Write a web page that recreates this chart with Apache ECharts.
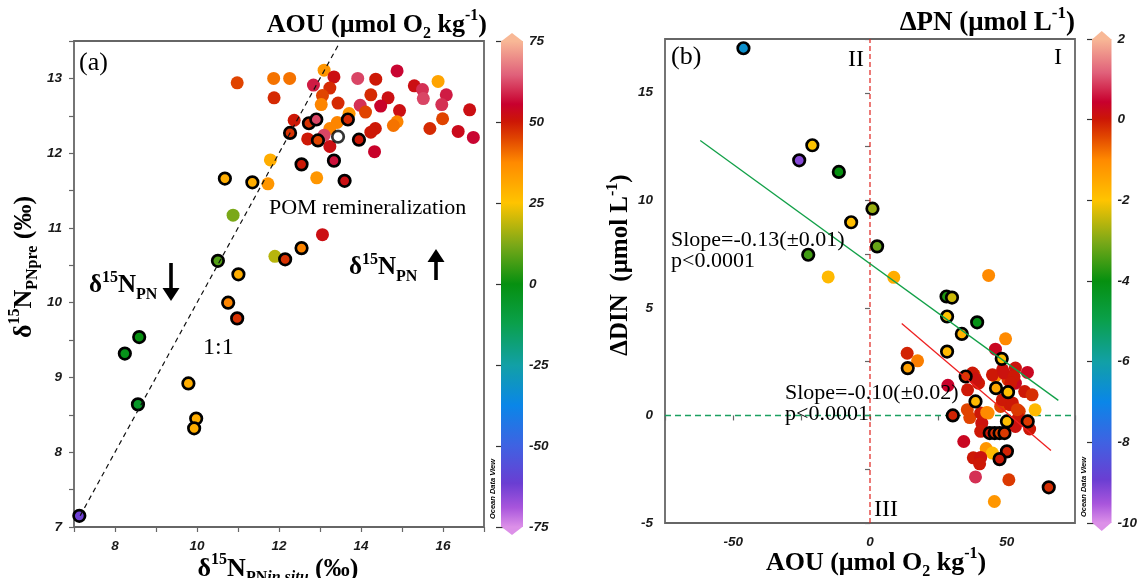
<!DOCTYPE html>
<html><head><meta charset="utf-8">
<script src="https://cdn.jsdelivr.net/npm/echarts@6/dist/echarts.min.js"></script>
<style>html,body{margin:0;padding:0;background:#fff}#c{width:1140px;height:578px}</style>
</head><body><div id="c"></div><script>
// ---------------- DATA ----------------
// Panel (a): [δ15N PN in situ, δ15N PN pre, AOU]
const aPlain = [
 [10.98,12.94,45],[11.87,13.00,40],[12.26,13.00,40],[13.10,13.11,35],[13.34,13.02,52],
 [12.84,12.91,58],[13.24,12.87,48],[13.06,12.77,45],[13.03,12.65,38],[11.88,12.74,48],
 [13.92,13.00,62],[14.36,12.99,50],[14.88,13.10,56],[15.30,12.90,52],[15.50,12.85,60],
 [15.52,12.73,62],[15.88,12.96,32],[16.08,12.78,58],[15.97,12.65,60],[14.24,12.78,48],
 [14.66,12.74,52],[13.98,12.64,60],[14.48,12.63,55],[14.11,12.55,45],[13.44,12.67,48],
 [14.94,12.57,52],[14.88,12.42,38],[14.79,12.37,40],[15.99,12.46,45],[16.65,12.58,52],
 [15.68,12.33,48],[16.37,12.29,53],[16.74,12.21,56],[14.35,12.33,50],[14.24,12.28,50],
 [14.33,12.02,55],[13.71,12.53,35],[13.42,12.41,38],[13.24,12.33,38],[13.10,12.24,62],
 [12.70,12.19,50],[13.24,12.09,52],[12.37,12.44,50],[11.79,11.91,30],[11.73,11.59,35],
 [12.92,11.67,35],[10.88,11.17,12],[13.06,10.91,52],[11.90,10.62,18]
];
const aRing = [
 [12.27,12.27,47],[12.73,12.40,47],[12.91,12.45,62],[12.95,12.17,45],[13.68,12.45,48],
 [13.95,12.18,50],[12.55,11.85,50],[13.34,11.90,57],[13.60,11.63,52],[10.68,11.66,30],
 [11.35,11.61,30],[10.51,10.56,8],[11.01,10.38,30],[12.15,10.58,47],[12.55,10.73,38],
 [10.76,10.00,38],[10.98,9.79,47],[8.24,9.32,-2],[8.59,9.54,0],[8.56,8.64,-5],
 [9.79,8.92,30],[9.98,8.45,30],[9.93,8.32,30],[7.13,7.15,-62]
];
const aWhite = [[13.44,12.22]];
const aOneToOne = [[7.15,7.15],[13.45,13.45]];

// Panel (b): [AOU, ΔDIN, ΔPN]
const bPlain = [
 [-15.3,6.44,-1.8],[8.7,6.42,-1.6],[43.4,6.51,-1],[13.6,2.89,-0.1],[17.4,2.54,-0.9],
 [49.6,3.56,-1],[45.9,3.08,0.3],[28.5,1.40,0.4],
 [38.1,1.89,-0.5],[39.7,1.50,0],[35.7,1.19,0],[45.8,1.81,-1],[48.5,2.12,0.1],[53.2,2.20,0.1],
 [57.6,2.00,0.3],[50.5,1.66,-0.3],[53.2,1.50,0.3],[56.6,1.11,0],[59.3,0.96,-0.2],
 [47.8,0.42,-0.4],[51.2,0.50,0],[54.6,0.19,-0.3],[60.4,0.26,-1.8],[43.2,0.11,-1],
 [36.5,-0.10,-0.4],[40.9,-0.36,0.1],[54.3,-0.12,0],[58.4,-0.63,0],[40.5,-0.74,0],
 [34.3,-1.21,0.3],[42.5,-1.54,-1.2],[44.8,-1.75,-1.8],[37.8,-1.97,0],[40.5,-1.95,0.1],
 [40.1,-2.25,0],[38.6,-2.86,0.8],[50.8,-2.99,-0.3],[45.5,-4.00,-1.2],[53.2,-0.51,0.1],
 [37.5,1.97,0],[38.7,1.69,0.1],[44.8,1.89,0],[49.0,1.97,0.1],[52.7,1.81,0],[51.5,1.51,0],
 [48.4,0.73,0],[52.1,0.58,0],[53.9,0.27,-0.3],[35.6,0.27,-0.4],[40.5,0.11,0],[42.7,0.14,-1]
];
const bRing = [
 [-46.3,17.07,-6.6],[-21.1,12.56,-2],[-25.9,11.86,-9.2],[-11.4,11.32,-4],[0.9,9.61,-2.8],
 [-6.9,8.98,-1.9],[2.6,7.86,-3.2],[-22.6,7.47,-3.5],
 [28.0,5.53,-3.8],[30.0,5.48,-2.4],[28.2,4.60,-2],[39.2,4.33,-4.1],[33.6,3.79,-1.7],
 [28.2,2.97,-1.8],[13.8,2.20,-1.4],[48.2,2.63,-1.9],[35.0,1.81,-0.3],[46.1,1.27,-1.5],
 [50.5,1.08,-1.9],[38.6,0.65,-1.8],[30.3,0.00,-0.1],[50.1,-0.28,-1.9],[57.7,-0.28,-0.3],
 [43.8,-0.82,0],[45.6,-0.82,-0.2],[47.4,-0.82,-0.4],[49.2,-0.82,-0.3],[50.1,-1.67,-0.1],
 [47.4,-2.03,0],[65.4,-3.34,-0.2]
];
const bFitAll = [[-62.1,12.78],[68.9,0.70]];
const bFitSub = [[11.6,4.27],[66.2,-1.63]];

// axis ranges and colour scales
const aXRange = [7,17], aYRange = [7,13.5];
const bXRange = [-75,75], bYRange = [-5,17.5];
const aouTicks = [-75,-50,-25,0,25,50,75];
const dpnTicks = [-10,-8,-6,-4,-2,0,2];

// ---------------- STYLE ----------------
const cmapStops = [
 [0,'#dc90e8'],[0.04,'#a855dc'],[0.09,'#6a3ed2'],[0.167,'#3f62e2'],[0.25,'#0a86e8'],
 [0.333,'#12a0a6'],[0.42,'#0aa04a'],[0.5,'#069010'],[0.58,'#7aa818'],[0.667,'#ffc400'],
 [0.75,'#ff8a00'],[0.80,'#e04400'],[0.835,'#cc1606'],[0.87,'#c8002e'],[0.93,'#e0607a'],[1,'#f8b896']
];
function hex2rgb(h){return [parseInt(h.substr(1,2),16),parseInt(h.substr(3,2),16),parseInt(h.substr(5,2),16)];}
function cmap(t){
  t=Math.max(0,Math.min(1,t));
  for(let i=1;i<cmapStops.length;i++){
    if(t<=cmapStops[i][0]){
      const a=cmapStops[i-1],b=cmapStops[i];
      const f=(t-a[0])/(b[0]-a[0]);
      const ca=hex2rgb(a[1]),cb=hex2rgb(b[1]);
      return 'rgb('+ca.map((v,k)=>Math.round(v+(cb[k]-v)*f)).join(',')+')';
    }
  }
  return cmapStops[cmapStops.length-1][1];
}
const aMin=aouTicks[0],aMax=aouTicks[aouTicks.length-1];
const dMin=dpnTicks[0],dMax=dpnTicks[dpnTicks.length-1];
const colA=v=>cmap((v-aMin)/(aMax-aMin));
const colB=v=>cmap((v-dMin)/(dMax-dMin));

const SERIF='"Liberation Serif","Times New Roman",serif';
const SANS='"Liberation Sans",Arial,sans-serif';
const FRAME='#666';
const tickLabel={fontFamily:SANS,fontWeight:'bold',fontStyle:'italic',fontSize:13.5,color:'#1a1a1a'};

function rich(size){
  const s=Math.round(size*0.62);
  return {
    b:{fontFamily:SERIF,fontWeight:'bold',fontSize:size,lineHeight:size+8,verticalAlign:'middle',color:'#000'},
    r:{fontFamily:SERIF,fontSize:size,lineHeight:size+8,verticalAlign:'middle',color:'#000'},
    sup:{fontFamily:SERIF,fontWeight:'bold',fontSize:s,lineHeight:s+6,verticalAlign:'top',color:'#000'},
    sub:{fontFamily:SERIF,fontWeight:'bold',fontSize:s,lineHeight:s+2,verticalAlign:'bottom',color:'#000'},
    subi:{fontFamily:SERIF,fontWeight:'bold',fontStyle:'italic',fontSize:s,lineHeight:s+2,verticalAlign:'bottom',color:'#000'}
  };
}
function txt(x,y,text,size,opts){
  opts=opts||{};
  return {type:'text',x:x,y:y,rotation:opts.rot||0,z:100,
    style:{text:text,rich:rich(size),align:opts.align||'left',verticalAlign:'middle'}};
}
function plain(x,y,text,size,opts){
  opts=opts||{};
  return {type:'text',x:x,y:y,rotation:opts.rot||0,z:100,
    style:{text:text,fill:'#000',font:(opts.font||'')+' '+size+'px '+(opts.family||SERIF),
      align:opts.align||'left',verticalAlign:'middle'}};
}
function arrow(x,yTail,yTip){
  const dir=yTip<yTail?-1:1;
  const headLen=13, headW=8.5;
  const yBase=yTip-dir*headLen;
  return {type:'group',z:100,children:[
    {type:'rect',shape:{x:x-1.8,y:Math.min(yTail,yBase),width:3.6,height:Math.abs(yBase-yTail)},style:{fill:'#000'}},
    {type:'polygon',shape:{points:[[x-headW,yBase],[x+headW,yBase],[x,yTip]]},style:{fill:'#000'}}
  ]};
}

function valAxis(gi,range,interval,showFn,pos){
  return {type:'value',gridIndex:gi,min:range[0],max:range[1],interval:interval,position:pos,
    axisLine:{show:false},splitLine:{show:false},
    axisTick:{show:true,length:5,lineStyle:{color:FRAME,width:1.2}},
    axisLabel:Object.assign({margin:12,formatter:v=>showFn(v)?String(v):''},tickLabel)};
}
function cbAxis(gi,ticks,pos,labels){
  return {type:'value',gridIndex:gi,min:ticks[0],max:ticks[ticks.length-1],interval:ticks[1]-ticks[0],position:pos,
    axisLine:{show:false},splitLine:{show:false},
    axisTick:{show:true,inside:true,length:5,lineStyle:{color:'#333',width:1.2}},
    axisLabel:Object.assign({show:labels,margin:6},tickLabel)};
}
function colorbarSeries(xi,yi,ticks){
  return {type:'custom',xAxisIndex:xi,yAxisIndex:yi,silent:true,clip:false,z:1,
    data:[[ticks[0],ticks[ticks.length-1]]],
    renderItem:function(params,api){
      const pB=api.coord([0,api.value(0)]),pT=api.coord([1,api.value(1)]);
      const x0=pB[0],x1=pT[0],yB=pB[1],yT=pT[1],xm=(x0+x1)/2;
      const grad=new echarts.graphic.LinearGradient(0,1,0,0,cmapStops.map(s=>({offset:s[0],color:s[1]})));
      return {type:'group',children:[
        {type:'rect',shape:{x:x0,y:yT,width:x1-x0,height:yB-yT},style:{fill:grad}},
        {type:'polygon',shape:{points:[[x0,yT+0.5],[x1,yT+0.5],[xm,yT-8]]},style:{fill:cmapStops[cmapStops.length-1][1]}},
        {type:'polygon',shape:{points:[[x0,yB-0.5],[x1,yB-0.5],[xm,yB+8]]},style:{fill:cmapStops[0][1]}}
      ]};
    }};
}
function scatter(xi,data,colFn,ring){
  return {type:'scatter',xAxisIndex:xi,yAxisIndex:xi,data:data,symbolSize:ring?11.5:13,z:ring?4:3,silent:true,
    itemStyle:{opacity:1,color:p=>colFn(p.value[2]),borderColor:'#000',borderWidth:ring?2.7:0}};
}
function line(xi,data,color,width,type,z){
  return {type:'line',xAxisIndex:xi,yAxisIndex:xi,data:data,symbol:'none',silent:true,z:z||5,
    lineStyle:{color:color,width:width,type:type}};
}

const chart=echarts.init(document.getElementById('c'),null,{renderer:'canvas'});
chart.setOption({
  animation:false,
  backgroundColor:'#fff',
  grid:[
    {left:74,top:41,width:410,height:486,show:true,borderColor:FRAME,borderWidth:1.8,backgroundColor:'transparent'},
    {left:665,top:39,width:410,height:484,show:true,borderColor:FRAME,borderWidth:1.8,backgroundColor:'transparent'},
    {left:501,top:41,width:22,height:486},
    {left:1092,top:39,width:22,height:484}
  ],
  xAxis:[
    valAxis(0,aXRange,1,v=>v%2===0,'bottom'),
    valAxis(1,bXRange,25,v=>v%50===0&&Math.abs(v)<75,'bottom'),
    {type:'value',gridIndex:2,min:0,max:1,show:false},
    {type:'value',gridIndex:3,min:0,max:1,show:false}
  ],
  yAxis:[
    valAxis(0,aYRange,0.5,v=>Number.isInteger(v)&&v<aYRange[1],'left'),
    valAxis(1,bYRange,2.5,v=>v%5===0&&v<bYRange[1],'left'),
    cbAxis(2,aouTicks,'right',true),
    cbAxis(3,dpnTicks,'right',true),
    cbAxis(2,aouTicks,'left',false),
    cbAxis(3,dpnTicks,'left',false)
  ],
  series:[
    scatter(0,aPlain,colA,false),
    scatter(0,aRing,colA,true),
    {type:'scatter',xAxisIndex:0,yAxisIndex:0,data:aWhite,symbolSize:11.5,z:4,silent:true,
      itemStyle:{color:'#fff',borderColor:'#000',borderWidth:2.7}},
    line(0,aOneToOne,'#111',1.2,[5,4],6),
    scatter(1,bPlain,colB,false),
    scatter(1,bRing,colB,true),
    line(1,[[0,bYRange[0]],[0,bYRange[1]]],'#e0201c',1.2,[5,3],2),
    line(1,[[bXRange[0],0],[bXRange[1],0]],'#1aa060',1.5,[6,4],2),
    line(1,bFitAll,'#12a048',1.3,'solid',6),
    line(1,bFitSub,'#ee2020',1.3,'solid',6),
    colorbarSeries(2,2,aouTicks),
    colorbarSeries(3,3,dpnTicks)
  ],
  graphic:[
    // panel (a)
    plain(79,63,'(a)',26),
    txt(487,25,'{b|AOU (μmol O}{sub|2}{b| kg}{sup|-1}{b|)}',26,{align:'right'}),
    plain(269,208,'POM remineralization',22),
    txt(349,268,'{b|δ}{sup|15}{b|N}{sub|PN}',25),
    arrow(436,280,249),
    txt(89,286,'{b|δ}{sup|15}{b|N}{sub|PN}',25),
    arrow(171,263,301),
    plain(203,348,'1:1',24),
    txt(24,267,'{b|δ}{sup|15}{b|N}{sub|PNpre}{b| (‰)}',26,{align:'center',rot:Math.PI/2}),
    txt(278,569,'{b|δ}{sup|15}{b|N}{sub|PN}{subi|in situ}{b| (‰)}',26,{align:'center'}),
    plain(493,489,'Ocean Data View',7.5,{family:SANS,font:'italic bold',align:'center',rot:Math.PI/2}),
    // panel (b)
    plain(671,57,'(b)',26),
    plain(856,60,'II',24,{align:'center'}),
    plain(1058,58,'I',24,{align:'center'}),
    plain(886,510,'III',24,{align:'center'}),
    plain(671,240,'Slope=-0.13(±0.01)',22),
    plain(671,261,'p<0.0001',22),
    plain(785,393,'Slope=-0.10(±0.02)',22),
    plain(785,414,'p<0.0001',22),
    txt(1075,23,'{b|ΔPN (μmol L}{sup|-1}{b|)}',27,{align:'right'}),
    txt(621,265,'{b|ΔDIN  (μmol L}{sup|-1}{b|)}',25,{align:'center',rot:Math.PI/2}),
    txt(876,563,'{b|AOU (μmol O}{sub|2}{b| kg}{sup|-1}{b|)}',26,{align:'center'}),
    plain(1084,487,'Ocean Data View',7.5,{family:SANS,font:'italic bold',align:'center',rot:Math.PI/2})
  ]
});
</script></body></html>
